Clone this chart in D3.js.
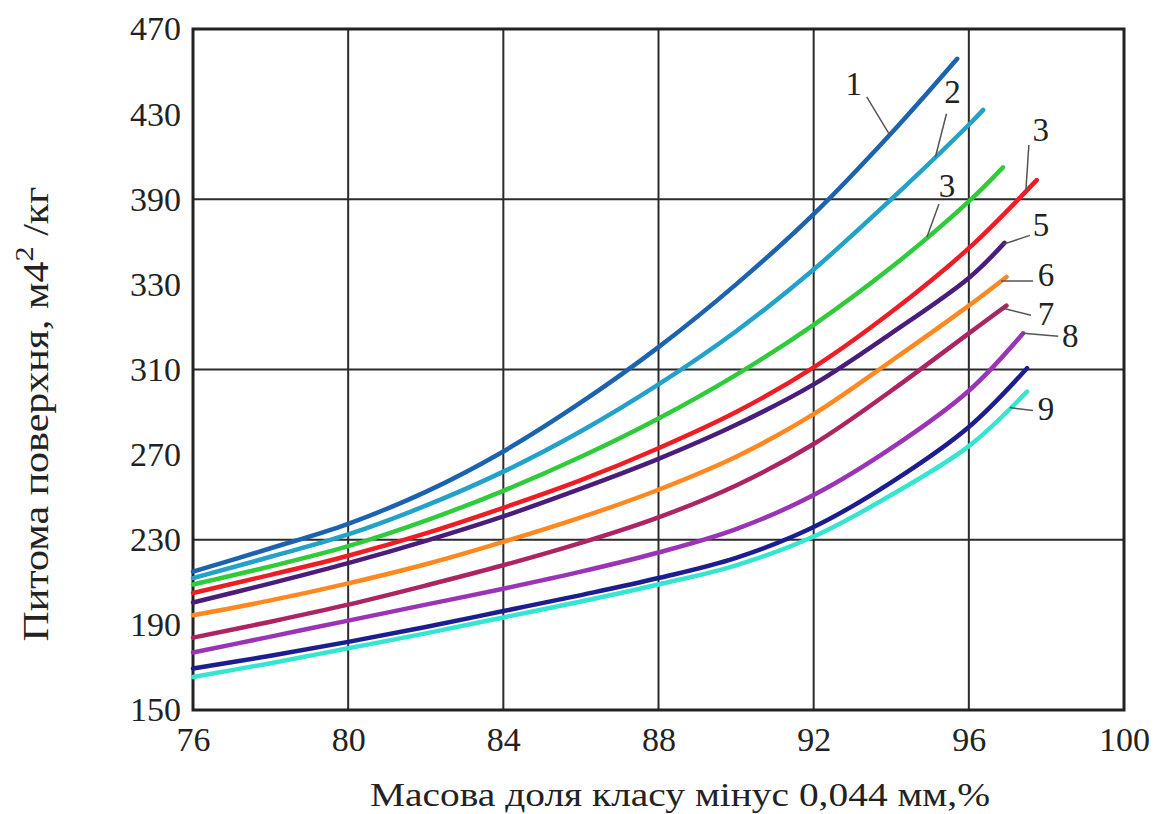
<!DOCTYPE html>
<html>
<head>
<meta charset="utf-8">
<script src="https://cdn.jsdelivr.net/npm/d3@7"></script>
<style>
  body { margin: 0; background: #fff; }
  text { font-family: "Liberation Serif", "Times New Roman", serif; fill: #222; }
</style>
</head>
<body>
<script>
const x_values = [76, 78, 80, 82, 84, 86, 88, 90, 92, 94, 96];

const series_1 = [215, 226, 237.5, 252.5, 271.5, 294.5, 320.5, 350, 383, 421, null];
const series_2 = [212, 222, 232.5, 246, 262, 281, 303, 328, 357, 390, 425];
const series_3 = [209, 217.5, 227, 239, 253, 269, 287, 307.5, 331, 358, 389];
const series_4 = [205, 213.5, 222.5, 233, 245, 258, 273, 290, 311, 337, 367];
const series_5 = [200.5, 209.5, 219, 229.5, 241, 254, 268, 284, 303, 327, 353];
const series_6 = [194.5, 201.5, 209.5, 218.5, 229, 240.5, 253.5, 269, 289, 314, 340];
const series_7 = [184, 191.5, 199.5, 208.5, 218, 228.5, 240.5, 255.5, 275, 300, 327];
const series_8 = [177, 184.5, 192, 199.5, 207, 215, 224, 235, 251, 273, 300];
const series_9 = [169.5, 175.5, 182, 189, 196.5, 204, 212, 221.5, 236, 257, 283];
const series_10 = [165.5, 172, 179, 186, 193.5, 201, 209, 218, 231.5, 251, 274];

// where each curve stops
const end_x = [95.7, 96.37, 96.88, 97.75, 96.92, 96.97, 96.97, 97.4, 97.5, 97.5];
const end_y = [456, 432, 405, 399, 369.5, 353.5, 340, 327, 310.6, 299.6];

// curve numbers as printed (the red one is printed "3" too, the navy one has none)
const curve_labels = ['1', '2', '3', '3', '5', '6', '7', '8', '', '9'];
const label_at_x = [93.96, 95.14, 94.92, 97.47, 96.88, 96.83, 96.88, 97.4, null, 97.06];

const x_ticks = [76, 80, 84, 88, 92, 96, 100];
const y_ticks = [150, 190, 230, 270, 310, 350, 390, 430, 470];
const y_tick_labels = ['150', '190', '230', '270', '310', '330', '390', '430', '470'];
const x_grid = [80, 84, 88, 92, 96];
const y_grid = [230, 310, 390];

const x_title = 'Масова доля класу мінус 0,044 мм,%';
const y_title = ['Питома поверхня, м4', '2', ' /кг'];

const colors = ['#1b63ae', '#22a2c9', '#2fcb3a', '#ee1d25', '#4a1c7c',
                '#ff8820', '#ad2462', '#9a33b6', '#1c1d8e', '#34e6cf'];

// label text and leader start, in pixels from the point where the leader touches its curve
const label_layout = [
  { text: [-36, -51], lead: [-23, -38] },
  { text: [17, -65], lead: [11, -43] },
  { text: [20, -51], lead: [12, -33] },
  { text: [15, -61], lead: [3, -46] },
  { text: [38, -19], lead: [27, -9] },
  { text: [45, -6], lead: [32, 0] },
  { text: [43, 6], lead: [28, 7] },
  { text: [47, 3], lead: [35, 3] },
  null,
  { text: [36, 1], lead: [23, 3] }
];

const width = 1160, height = 814;
const plot = { left: 193, right: 1124, top: 29, bottom: 710 };

const all_series = [series_1, series_2, series_3, series_4, series_5,
                    series_6, series_7, series_8, series_9, series_10];

const curves = all_series.map((values, i) => {
  const points = x_values.map((x, j) => [x, values[j]]).filter((p) => p[1] !== null);
  points.push([end_x[i], end_y[i]]);
  return { id: i, points: points, color: colors[i], label: curve_labels[i] };
});

function value_at(points, x) {
  for (let i = 1; i < points.length; i++) {
    if (x <= points[i][0]) {
      const t = (x - points[i - 1][0]) / (points[i][0] - points[i - 1][0]);
      return points[i - 1][1] + t * (points[i][1] - points[i - 1][1]);
    }
  }
  return points[points.length - 1][1];
}

const x = d3.scaleLinear().domain([76, 100]).range([plot.left, plot.right]);
const y = d3.scaleLinear().domain([150, 470]).range([plot.bottom, plot.top]);

const svg = d3.select('body').append('svg')
  .attr('width', width)
  .attr('height', height);

// grid
svg.append('g').selectAll('line')
  .data(x_grid)
  .enter()
  .append('line')
  .attr('x1', (d) => x(d)).attr('x2', (d) => x(d))
  .attr('y1', plot.top).attr('y2', plot.bottom)
  .attr('stroke', '#2b2b2b').attr('stroke-width', 2);

svg.append('g').selectAll('line')
  .data(y_grid)
  .enter()
  .append('line')
  .attr('x1', plot.left).attr('x2', plot.right)
  .attr('y1', (d) => y(d)).attr('y2', (d) => y(d))
  .attr('stroke', '#2b2b2b').attr('stroke-width', 2);

svg.append('rect')
  .attr('x', plot.left).attr('y', plot.top)
  .attr('width', plot.right - plot.left)
  .attr('height', plot.bottom - plot.top)
  .attr('fill', 'none')
  .attr('stroke', '#222')
  .attr('stroke-width', 3);

// axes (labels only, the frame is drawn above)
const x_axis = svg.append('g')
  .attr('transform', `translate(0,${plot.bottom})`)
  .call(d3.axisBottom(x).tickValues(x_ticks).tickSize(0).tickPadding(17).tickFormat(d3.format('d')));

const y_axis = svg.append('g')
  .attr('transform', `translate(${plot.left},0)`)
  .call(d3.axisLeft(y).tickValues(y_ticks).tickSize(0).tickPadding(12)
    .tickFormat((d, i) => y_tick_labels[i]));

[x_axis, y_axis].forEach((axis) => {
  axis.select('.domain').remove();
  axis.selectAll('text')
    .attr('font-family', '"Liberation Serif", serif')
    .attr('font-size', 34)
    .attr('fill', '#222');
});

// curves
const line = d3.line()
  .x((d) => x(d[0]))
  .y((d) => y(d[1]))
  .curve(d3.curveCatmullRom.alpha(0.5));

svg.append('g').selectAll('path')
  .data(curves)
  .enter()
  .append('path')
  .attr('d', (d) => line(d.points))
  .attr('fill', 'none')
  .attr('stroke', (d) => d.color)
  .attr('stroke-width', 4.5)
  .attr('stroke-linecap', 'round');

// curve numbers with leaders
const labelled = curves.filter((c) => c.label !== '');
labelled.forEach((c) => {
  const lay = label_layout[c.id];
  const tx = x(label_at_x[c.id]);
  const ty = y(value_at(c.points, label_at_x[c.id]));

  svg.append('line')
    .attr('x1', tx + lay.lead[0]).attr('y1', ty + lay.lead[1])
    .attr('x2', tx).attr('y2', ty)
    .attr('stroke', '#555')
    .attr('stroke-width', 1.5);

  svg.append('text')
    .attr('x', tx + lay.text[0])
    .attr('y', ty + lay.text[1])
    .attr('text-anchor', 'middle')
    .attr('dominant-baseline', 'central')
    .attr('font-size', 33)
    .text(c.label);
});

// titles
svg.append('text')
  .attr('x', 680)
  .attr('y', 806)
  .attr('text-anchor', 'middle')
  .attr('font-size', 34)
  .attr('textLength', 620)
  .attr('lengthAdjust', 'spacingAndGlyphs')
  .text(x_title);

const y_label = svg.append('text')
  .attr('transform', 'translate(48,414) rotate(-90)')
  .attr('text-anchor', 'middle')
  .attr('font-size', 36)
  .attr('textLength', 455)
  .attr('lengthAdjust', 'spacingAndGlyphs');
y_label.append('tspan').text(y_title[0]);
y_label.append('tspan').attr('dy', -15).attr('font-size', 26).text(y_title[1]);
y_label.append('tspan').attr('dy', 15).text(y_title[2]);
</script>
</body>
</html>
